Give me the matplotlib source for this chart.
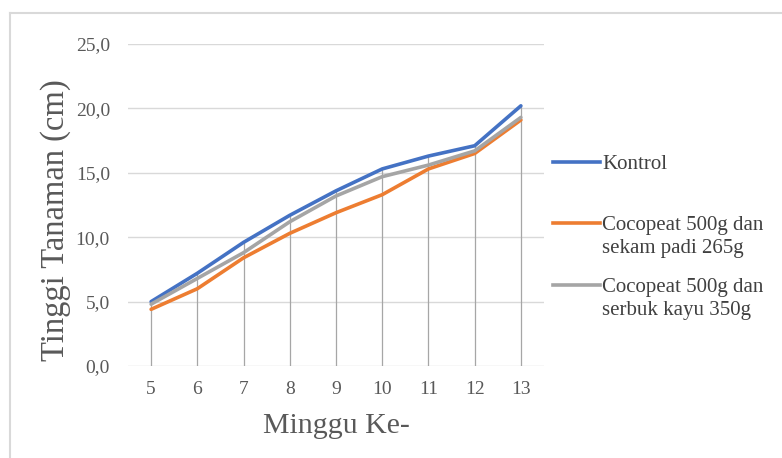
import matplotlib.pyplot as plt
from matplotlib.lines import Line2D
import numpy as np

# plant height per week for each growing medium
minggu = [5, 6, 7, 8, 9, 10, 11, 12, 13]
kontrol = [5.0, 7.2, 9.6, 11.7, 13.6, 15.3, 16.3, 17.1, 20.2]
sekam_padi = [4.4, 6.0, 8.4, 10.3, 11.9, 13.3, 15.3, 16.5, 19.1]
serbuk_kayu = [4.8, 6.8, 8.8, 11.2, 13.2, 14.7, 15.6, 16.7, 19.3]

labels = ["Kontrol", "Cocopeat 500g dan\nsekam padi 265g", "Cocopeat 500g dan\nserbuk kayu 350g"]
colors = ["#4472C4", "#ED7D31", "#A5A5A5"]
yticks = [0, 5, 10, 15, 20, 25]

W, H = 782, 458
plt.rcParams['font.family'] = ['Liberation Serif', 'DejaVu Serif']

fig = plt.figure(figsize=(W / 100, H / 100), dpi=100)
ax = fig.add_axes([128 / W, 92 / H, 416 / W, 322 / H])

x = np.arange(len(minggu))
series = [kontrol, sekam_padi, serbuk_kayu]

# drop lines from the highest point down to the axis
top = np.max(np.array(series), axis=0)
ax.vlines(x, 0, top, color="#A6A6A6", lw=0.9, zorder=1)

for vals, c, lab in zip(series, colors, labels):
    ax.plot(x, vals, color=c, lw=2.6, solid_capstyle="round", zorder=3, label=lab)

ax.set_xlim(-0.5, len(minggu) - 0.5)
ax.set_ylim(0, 25)
ax.set_yticks(yticks)
ax.set_yticklabels([f"{v:.1f}".replace(".", ",") for v in yticks])
ax.set_xticks(x)
ax.set_xticklabels([str(m) for m in minggu])
ax.grid(axis="y", color="#D9D9D9", lw=1.0, zorder=0)
ax.set_axisbelow(True)
for s in ax.spines.values():
    s.set_visible(False)
ax.tick_params(length=0, labelsize=14, colors="#595959")
ax.tick_params(axis="x", pad=11)
ax.tick_params(axis="y", pad=13)

fig.text(336 / W, 1 - 426 / H, "Minggu Ke-", fontsize=21.5, color="#595959",
         ha="center", va="center")
fig.text(56 / W, 1 - 220 / H, "Tinggi Tanaman (cm)", fontsize=23.5, color="#595959",
         ha="center", va="center", rotation=90)

# legend on the right, handle level with the first text line
leg_y = [162, 223, 285]
for ypix, c, lab in zip(leg_y, colors, labels):
    fy = 1 - ypix / H
    fig.add_artist(Line2D([553 / W, 600 / W], [fy, fy], color=c, lw=2.6,
                          transform=fig.transFigure))
    for i, line in enumerate(lab.split("\n")):
        fig.text(602 / W, 1 - (ypix + 23 * i) / H, line, fontsize=15, color="#404040",
                 ha="left", va="center_baseline")

# chart frame
fig.add_artist(Line2D([10 / W, 10 / W], [0, 1 - 13 / H], color="#D9D9D9", lw=1.5,
                      transform=fig.transFigure))
fig.add_artist(Line2D([10 / W, 1], [1 - 13 / H, 1 - 13 / H], color="#D9D9D9", lw=1.5,
                      transform=fig.transFigure))

fig.savefig("out.png", dpi=100)
